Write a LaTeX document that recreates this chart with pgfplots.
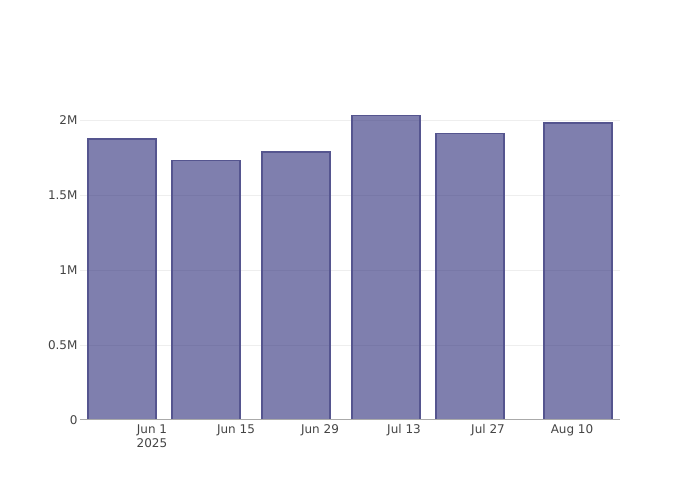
\documentclass[border=0pt]{standalone}
\usepackage{fontspec}
\setmainfont{DejaVu Sans}
\usepackage{pgfplots}
\pgfplotsset{compat=1.18}
\definecolor{barFill}{HTML}{2A2A78}
\definecolor{barEdge}{HTML}{55558F}
\definecolor{tickText}{HTML}{444444}
\definecolor{gridCol}{HTML}{EEEEEE}
\definecolor{zeroCol}{HTML}{AAAAAA}

% x = days after Jun 1 2025, y = value in millions
\begin{document}
\begin{tikzpicture}[x=1bp,y=1bp]
\path[use as bounding box] (0,0) rectangle (700,500);
\begin{axis}[at={(80bp,80bp)}, anchor=south west, width=540bp, height=320bp, scale only axis,
  xmin=-12, xmax=78, ymin=0, ymax=2.136,
  axis line style={draw=none}, tick style={draw=none},
  xtick={0,14,28,42,56,70}, xticklabels={{Jun 1\\2025},Jun 15,Jun 29,Jul 13,Jul 27,Aug 10},
  xticklabel style={align=center, yshift=-1bp},
  ytick={0,0.5,1,1.5,2}, yticklabels={0,0.5M,1M,1.5M,2M},
  yticklabel style={xshift=1bp},
  ymajorgrids, grid style={gridCol, line width=1bp},
  tick label style={font=\fontsize{12bp}{14bp}\selectfont, text=tickText},
  /pgf/number format/assume math mode=true,
  axis on top=false]
\addplot[ybar, bar width=11.4, fill=barFill, fill opacity=0.6, draw=barEdge, draw opacity=1, line width=1.6bp]
  coordinates {(-5,1.875)(9,1.733)(24,1.788)(39,2.033)(53,1.913)(71,1.984)};
\draw[zeroCol, line width=1.6bp] (axis cs:-12,0) -- (axis cs:78,0);
\end{axis}
\end{tikzpicture}
\end{document}
